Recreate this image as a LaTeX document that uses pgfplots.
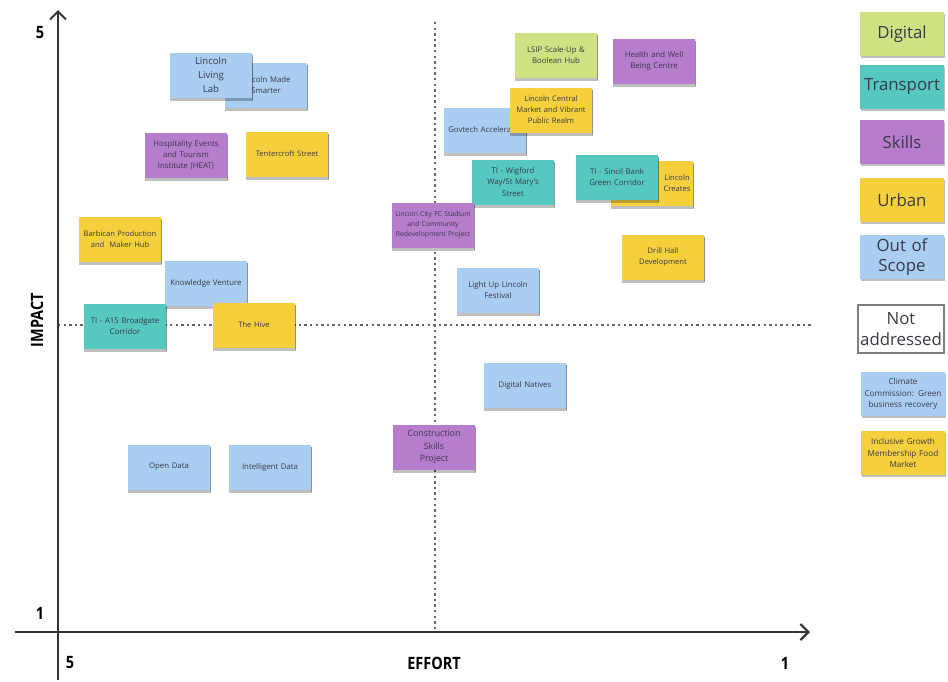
\documentclass[border=0pt]{standalone}
\usepackage{fontspec}
\setmainfont{Open Sans}
\newfontfamily\condfont[FakeStretch=0.85]{Open Sans}
\usepackage{pgfplots}
\pgfplotsset{compat=1.18}
\usetikzlibrary{shadows,arrows.meta}
\definecolor{lime}{HTML}{CFE283}
\definecolor{teal}{HTML}{55C9BF}
\definecolor{purp}{HTML}{B57DCC}
\definecolor{yell}{HTML}{F6D03C}
\definecolor{blu}{HTML}{AACDF2}
\definecolor{notetext}{HTML}{3A3A48}
\definecolor{axisgray}{HTML}{333333}

\tikzset{
  legnote/.style={fill=#1, text=notetext, minimum width=42pt, minimum height=22pt,
    text width=42pt, inner sep=0pt, align=center, font=\fontsize{8.4}{10.2}\selectfont,
    drop shadow={shadow xshift=0.3pt, shadow yshift=-1.2pt, opacity=0.25, fill=black}},
}

\begin{document}
\begin{tikzpicture}
\begin{axis}[scale only axis, width=474pt, height=340pt,
  xmin=0, xmax=948, ymin=0, ymax=680, y dir=reverse,
  hide axis, clip=false,
  note/.style 2 args={only marks, mark=none, nodes near coords,
    point meta=explicit symbolic,
    every node near coord/.append style={anchor=center, fill=#1, text=notetext,
      minimum width=41pt, minimum height=22.5pt, text width=40pt, inner sep=0.5pt,
      align=center, font=\fontsize{#2}{#2}\selectfont\setlength{\baselineskip}{1.45\baselineskip},
      drop shadow={shadow xshift=0.3pt, shadow yshift=-1.3pt, opacity=0.25, fill=black}}},
]
% keep the whole canvas in the bounding box
\path (axis cs:0,0) rectangle (axis cs:948,680);

% quadrant guides
\addplot[gray!80!black, line width=0.6pt, dash pattern=on 1.2pt off 1.6pt] coordinates {(435,22) (435,632)};
\addplot[gray!80!black, line width=0.6pt, dash pattern=on 1.2pt off 1.6pt] coordinates {(58,325) (812,325)};

% axes
\addplot[axisgray, line width=1pt, -{Straight Barb[length=4pt]}] coordinates {(58,680) (58,10)};
\addplot[axisgray, line width=1.1pt, -{Straight Barb[length=4pt]}] coordinates {(15,632) (810,632)};

% out of scope
\addplot[note={blu}{3.9}] coordinates {
  (266,85) [Lincoln Made\\Smarter]
  (485,130) [Govtech Accelerator]
  (206,283) [Knowledge Venture]
  (169,467) [Open Data]
  (270,467) [Intelligent Data]
  (498,290) [Light Up Lincoln\\Festival]
  (525,385) [Digital Natives]
};
\addplot[note={blu}{4.8}] coordinates {(211,75) [Lincoln\\Living\\Lab]};

% urban
\addplot[note={yell}{3.8}] coordinates {
  (287,154) [Tentercroft Street]
  (120,239) [Barbican Production\\and~~Maker Hub]
  (254,325) [The Hive]
  (652,183) [\hspace*{25pt}Lincoln\\\hspace*{25pt}Creates]
  (663,257) [Drill Hall\\Development]
  (551,110) [Lincoln Central\\Market and Vibrant\\Public Realm]
};

% transport
\addplot[note={teal}{3.9}] coordinates {
  (125,326) [TI - A15 Broadgate\\Corridor]
  (513,182) [TI - Wigford\\Way/St Mary's\\Street]
  (617,177) [TI - Sincil Bank\\Green Corridor]
};

% skills
\addplot[note={purp}{3.9}] coordinates {
  (186,155) [Hospitality Events\\and Tourism\\Institute (HEAT)]
  (654,61) [Health and Well\\Being Centre]
};
\addplot[note={purp}{3.4}] coordinates {
  (433,225) [Lincoln City FC Stadium\\and Community\\Redevelopment Project]
};
\addplot[note={purp}{4.4}] coordinates {(434,447) [Construction\\Skills\\Project]};

% digital
\addplot[note={lime}{3.9}] coordinates {(556,55) [LSIP Scale-Up \&\\Boolean Hub]};

% axis texts
\node[font=\condfont\bfseries\fontsize{8.5}{10}\selectfont] at (axis cs:40,33) {5};
\node[font=\condfont\bfseries\fontsize{8.5}{10}\selectfont] at (axis cs:40,613) {1};
\node[font=\condfont\bfseries\fontsize{8.5}{10}\selectfont, rotate=90] at (axis cs:37,320) {IMPACT};
\node[font=\condfont\bfseries\fontsize{8.5}{10}\selectfont] at (axis cs:70,663) {5};
\node[font=\condfont\bfseries\fontsize{8.5}{10}\selectfont] at (axis cs:434,663) {EFFORT};
\node[font=\condfont\bfseries\fontsize{8.5}{10}\selectfont] at (axis cs:785,663) {1};

% key
\node[legnote=lime] at (axis cs:902,34) {Digital};
\node[legnote=teal] at (axis cs:902,87) {Transport};
\node[legnote=purp] at (axis cs:902,142) {Skills};
\node[legnote=yell] at (axis cs:902,200) {Urban};
\node[legnote=blu] at (axis cs:902,257) {Out of\\Scope};
\node[fill=white, draw=gray, line width=0.6pt, text=notetext, minimum width=43pt, minimum height=24pt,
  text width=42pt, inner sep=0.5pt, align=center, font=\fontsize{8.4}{10.2}\selectfont] at (axis cs:901,329) {Not\\addressed};
\node[legnote=blu, font=\fontsize{4.1}{5.6}\selectfont] at (axis cs:903,394) {Climate\\Commission: Green\\business recovery};
\node[legnote=yell, font=\fontsize{4.1}{5.6}\selectfont] at (axis cs:903,453) {Inclusive Growth\\Membership Food\\Market};

\end{axis}
\end{tikzpicture}
\end{document}
